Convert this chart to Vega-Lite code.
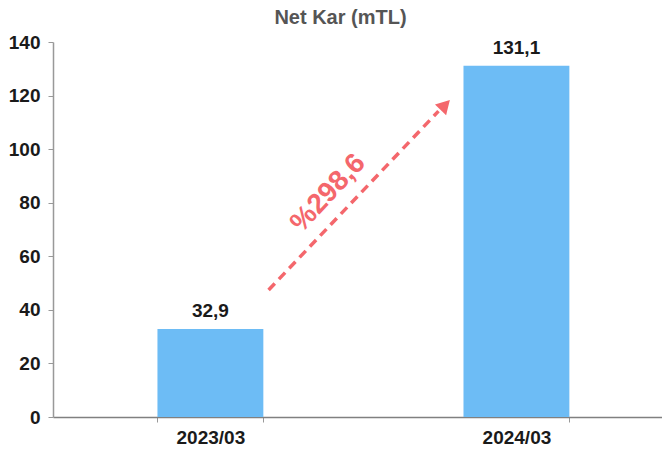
{
  "$schema": "https://vega.github.io/schema/vega-lite/v6.json",
  "width": 609,
  "height": 375,
  "autosize": {"type": "none"},
  "padding": {"left": 53, "top": 42, "right": 0, "bottom": 45},
  "background": "white",
  "config": {"view": {"stroke": null}, "font": "Liberation Sans"},
  "title": {"text": "Net Kar (mTL)", "fontSize": 20, "fontWeight": "bold", "color": "#555555", "font": "Liberation Sans", "offset": 5, "anchor": "middle", "dx": -17},
  "datasets": {
    "bars": [{"period": "2023/03", "value": 32.9, "label": "32,9"}, {"period": "2024/03", "value": 131.1, "label": "131,1"}],
    "arrow": [{"x1": 0.354, "y1": 47.4, "x2": 0.633, "y2": 114.2}],
    "head": [{"xp": 0.644, "yp": 116.5}],
    "pct": [{"xp": 0.452, "yp": 83.5, "txt": "%298,6"}]
  },
  "layer": [
    {
      "data": {"name": "bars"},
      "layer": [
        {
          "mark": {"type": "bar", "color": "#6dbcf5"},
          "encoding": {
            "x": {"field": "period", "type": "nominal", "scale": {"paddingInner": 0.654, "paddingOuter": 0.322, "align": 0.53},
              "axis": {"title": null, "labelAngle": 0, "labelFontSize": 19, "labelFontWeight": "bold", "labelColor": "#1a1a1a", "labelFont": "Liberation Sans", "domainColor": "#808080", "domainWidth": 1.5, "tickBand": "extent", "tickColor": "#999999", "tickSize": 5, "labelPadding": 6}},
            "y": {"field": "value", "type": "quantitative", "scale": {"domain": [0, 140], "nice": false},
              "axis": {"title": null, "values": [0, 20, 40, 60, 80, 100, 120, 140], "grid": false, "labelFontSize": 19, "labelFontWeight": "bold", "labelColor": "#1a1a1a", "labelFont": "Liberation Sans", "domainColor": "#999999", "domainWidth": 1.5, "tickColor": "#999999", "tickSize": 5, "labelPadding": 8}}
          }
        },
        {
          "mark": {"type": "text", "dy": -18, "fontSize": 19, "fontWeight": "bold", "color": "#1a1a1a", "font": "Liberation Sans"},
          "encoding": {
            "x": {"field": "period", "type": "nominal"},
            "y": {"field": "value", "type": "quantitative"},
            "text": {"field": "label"}
          }
        }
      ]
    },
    {
      "data": {"name": "arrow"},
      "mark": {"type": "rule", "color": "#f4676c", "strokeWidth": 3.5, "strokeDash": [9, 6]},
      "encoding": {
        "x": {"field": "x1", "type": "quantitative", "scale": {"domain": [0, 1], "nice": false, "zero": false}, "axis": null},
        "x2": {"field": "x2"},
        "y": {"field": "y1", "type": "quantitative"},
        "y2": {"field": "y2"}
      }
    },
    {
      "data": {"name": "head"},
      "mark": {"type": "point", "shape": "triangle-up", "filled": true, "color": "#f4676c", "size": 240, "angle": 44, "opacity": 1},
      "encoding": {
        "x": {"field": "xp", "type": "quantitative", "scale": {"domain": [0, 1], "nice": false, "zero": false}, "axis": null},
        "y": {"field": "yp", "type": "quantitative"}
      }
    },
    {
      "data": {"name": "pct"},
      "mark": {"type": "text", "angle": -47, "fontSize": 28, "fontWeight": "bold", "color": "#f4676c", "font": "Liberation Sans"},
      "encoding": {
        "x": {"field": "xp", "type": "quantitative", "scale": {"domain": [0, 1], "nice": false, "zero": false}, "axis": null},
        "y": {"field": "yp", "type": "quantitative"},
        "text": {"field": "txt"}
      }
    }
  ],
  "resolve": {"scale": {"x": "independent"}}
}
